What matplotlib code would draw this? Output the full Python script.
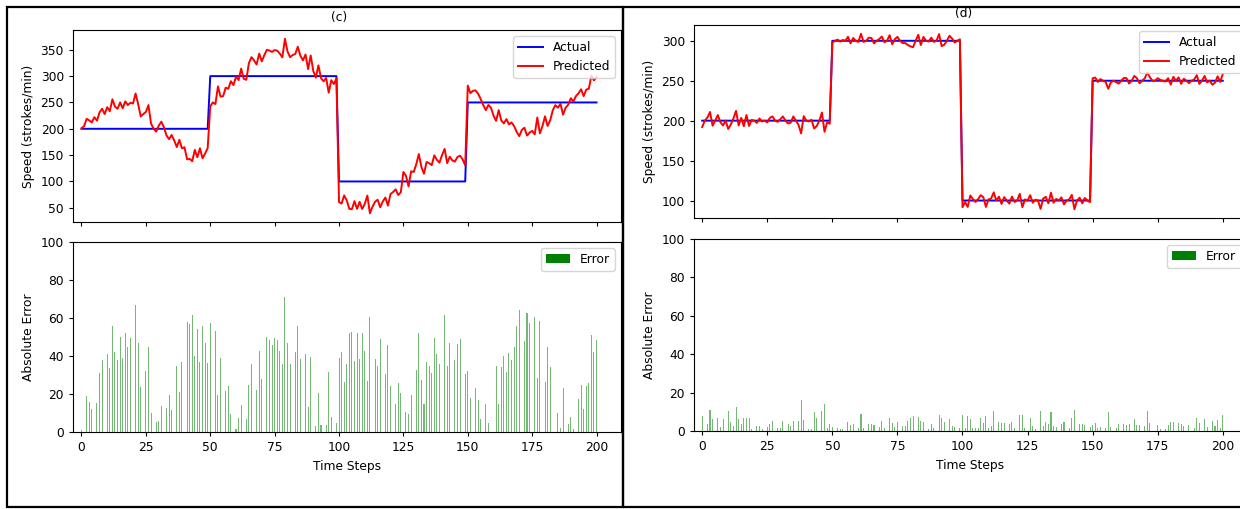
import numpy as np
import matplotlib
matplotlib.use("Agg")
import matplotlib.pyplot as plt
from matplotlib.patches import Rectangle

plt.rcParams['font.family'] = ['DejaVu Sans']
plt.rcParams['font.size'] = 8.8

W, H = 1240, 509

steps = np.arange(201)

# actual speed levels and how many steps each one lasts
levels_c = [200, 300, 100, 250]
levels_d = [200, 300, 100, 250]
seg_len = [50, 50, 50, 51]

# (c) predicted speed
pred_c = [201, 205, 219, 216, 212, 222, 215.4, 231, 238, 228,
          241, 233.5, 256, 242, 238, 250, 239, 252, 245, 249.5,
          248, 267, 247, 223.5, 228, 232, 245, 210, 200, 194.6,
          206, 213.5, 203, 187.4, 180.4, 188.2, 178, 165.3, 179, 163,
          165, 142, 143, 138.4, 160, 146, 163, 144, 153, 163.5,
          242.5, 250, 247, 280.5, 261, 262, 278.2, 275.8, 290.4, 283,
          298.6, 292.5, 314.2, 295, 293, 324.7, 336, 330, 322, 342.8,
          328, 340, 350, 348.4, 346, 349.5, 348.4, 342.8, 335.6, 371,
          346.7, 336, 340, 342, 355.8, 338.6, 330, 341, 313.3, 339.3,
          310, 297, 320.5, 296.5, 290, 296.5, 268.6, 292.3, 285, 295.4,
          61, 58, 73.5, 64, 48, 47.2, 62.6, 48, 61.4, 47.7,
          57.5, 73.2, 39.6, 52, 61.4, 65.3, 51, 62, 69.5, 54.2,
          76, 80, 85, 74.2, 79.5, 118, 110.7, 90.5, 119.3, 118,
          132.8, 152, 127.4, 114.7, 137, 134.7, 131, 149.5, 141.2, 135.6,
          150, 161.8, 134.7, 147, 140, 137.7, 146.5, 148.8, 142, 130.5,
          282, 267.7, 272, 273, 266.8, 256.7, 245, 235.3, 245.3, 240,
          225, 215, 235.4, 216, 210.2, 218.4, 208.4, 212, 205, 194,
          186, 198, 202, 187.2, 192.6, 196, 189.5, 221.5, 191.4, 205,
          223.7, 205.4, 216, 235, 245, 240, 247.7, 226.7, 240, 245.7,
          258, 251.8, 262, 267.4, 275, 262, 274.4, 276, 301, 292,
          298.2]

# (c) absolute error bars
err_c = [1, 0, 19, 16, 12, 0, 15.4, 31, 38, 0,
         41, 33.5, 56, 42, 38, 50, 39, 52, 45, 49.5,
         0, 67, 47, 23.5, 0, 32, 45, 10, 0, 5.4,
         6, 13.5, 0, 12.6, 19.6, 11.8, 0, 34.7, 21, 37,
         0, 58, 57, 61.6, 40, 54, 37, 56, 47, 36.5,
         57.5, 0, 53, 19.5, 39, 0, 21.8, 24.2, 9.6, 0,
         1.4, 7.5, 14.2, 0, 7, 24.7, 36, 0, 22, 42.8,
         28, 0, 50, 48.4, 46, 49.5, 48.4, 42.8, 35.6, 71,
         46.7, 36, 0, 42, 55.8, 38.6, 0, 41, 13.3, 39.3,
         0, 3, 20.5, 3.5, 0, 3.5, 31.4, 7.7, 0, 4.6,
         39, 42, 26.5, 36, 52, 52.8, 37.4, 52, 38.6, 52.3,
         42.5, 26.8, 60.4, 0, 38.6, 34.7, 49, 0, 30.5, 45.8,
         24, 0, 15, 25.8, 20.5, 0, 10.7, 9.5, 19.3, 0,
         32.8, 52, 27.4, 14.7, 37, 34.7, 31, 49.5, 41.2, 35.6,
         0, 61.8, 34.7, 47, 0, 37.7, 46.5, 48.8, 0, 30.5,
         32, 17.7, 0, 23, 16.8, 6.7, 0, 14.7, 4.7, 0,
         0, 35, 14.6, 34, 39.8, 31.6, 41.6, 38, 45, 56,
         64, 0, 48, 62.8, 57.4, 0, 60.5, 28.5, 58.6, 0,
         26.3, 44.6, 34, 0, 0, 10, 2.3, 23.3, 0, 4.3,
         8, 1.8, 0, 17.4, 25, 12, 24.4, 26, 51, 42,
         48.2]

# (d) predicted speed
pred_d = [192, 200, 203.9, 210.9, 193.7, 200, 207, 197.9, 194, 200,
          189.5, 195.4, 202.8, 212.3, 194, 203.5, 193, 207, 193.3, 201,
          200, 197.2, 202.8, 199, 200, 197.9, 203.5, 205.3, 200, 198.6,
          201.8, 205.3, 200, 196.5, 197.5, 205.3, 200, 194.7, 184, 205.6,
          200, 199, 201, 190.2, 193.3, 200, 210.2, 186, 198.2, 196.1,
          297.9, 300, 301.4, 299, 301, 300, 304.9, 296.8, 303.5, 300,
          298.6, 308.8, 298.6, 300, 303.9, 303.5, 296.8, 300, 302.1, 305.3,
          298.2, 300, 307, 295.8, 302.1, 304.9, 300, 297.2, 297.2, 294.7,
          293, 292, 300, 307.5, 294.7, 304.9, 300, 299, 303.9, 298.6,
          300, 308.4, 293.3, 295.1, 300, 306.3, 302.8, 297.9, 300, 301.8,
          91.6, 98.2, 92, 106.3, 101.8, 98.2, 101.8, 106.7, 104.2, 92,
          101.4, 102.5, 110.2, 100, 104.9, 95.8, 104.2, 100, 96.1, 104.9,
          98.2, 100, 108.4, 91.6, 101.4, 100, 106.7, 97.2, 101, 100,
          89.5, 102.5, 104.6, 96.5, 109.8, 97.2, 102.1, 100, 103.9, 95.1,
          100, 101.4, 107, 89.1, 100, 103.5, 96.5, 103.2, 100, 98,
          253, 254, 248.5, 252, 250, 248.5, 240, 248, 250, 248.2,
          246.5, 250, 253.5, 253.2, 246.5, 250, 256, 253.2, 246.8, 250,
          252.8, 260.5, 254.2, 250, 250, 253.2, 251, 250, 249, 253.2,
          245.1, 254.9, 250, 254.2, 246.1, 252.5, 250, 247, 250, 251.5,
          257, 246, 250, 256, 248, 250, 245, 247.5, 255.5, 248.5,
          258.5]

# (d) absolute error bars
err_d = [8, 0, 3.9, 10.9, 6.3, 0, 7, 2.1, 6, 0,
         10.5, 4.6, 2.8, 12.3, 6, 3.5, 7, 7, 6.7, 1,
         0, 2.8, 2.8, 1, 0, 2.1, 3.5, 5.3, 0, 1.4,
         1.8, 5.3, 0, 3.5, 2.5, 5.3, 0, 5.3, 16, 5.6,
         0, 1, 1, 9.8, 6.7, 0, 10.2, 14, 1.8, 3.9,
         2.1, 0, 1.4, 1, 1, 0, 4.9, 3.2, 3.5, 0,
         1.4, 8.8, 1.4, 0, 3.9, 3.5, 3.2, 0, 2.1, 5.3,
         1.8, 0, 7, 4.2, 2.1, 4.9, 0, 2.8, 2.8, 5.3,
         7, 8, 0, 7.5, 5.3, 4.9, 0, 1, 3.9, 1.4,
         0, 8.4, 6.7, 4.9, 0, 6.3, 2.8, 2.1, 0, 1.8,
         8.4, 1.8, 8, 6.3, 1.8, 1.8, 1.8, 6.7, 4.2, 8,
         1.4, 2.5, 10.2, 0, 4.9, 4.2, 4.2, 0, 3.9, 4.9,
         1.8, 0, 8.4, 8.4, 1.4, 0, 6.7, 2.8, 1, 0,
         10.5, 2.5, 4.6, 3.5, 9.8, 2.8, 2.1, 0, 3.9, 4.9,
         0, 1.4, 7, 10.9, 0, 3.5, 3.5, 3.2, 0, 2,
         3, 4, 1.5, 2, 0, 1.5, 10, 2, 0, 1.8,
         3.5, 0, 3.5, 3.2, 3.5, 0, 6, 3.2, 3.2, 0,
         2.8, 10.5, 4.2, 0, 0, 3.2, 1, 0, 1, 3.2,
         4.9, 4.9, 0, 4.2, 3.9, 2.5, 0, 3, 0, 1.5,
         7, 4, 0, 6, 2, 0, 5, 2.5, 5.5, 1.5,
         8.5]

actual_c = np.repeat(levels_c, seg_len)
actual_d = np.repeat(levels_d, seg_len)

speed_ticks_c = [50, 100, 150, 200, 250, 300, 350]
speed_ticks_d = [100, 150, 200, 250, 300]


def px_axes(fig, l, t, r, b):
    return fig.add_axes([l / W, 1 - b / H, (r - l) / W, (b - t) / H])


fig = plt.figure(figsize=(W / 100, H / 100), dpi=100)

panels = [
    (actual_c, pred_c, err_c, speed_ticks_c, (73, 30, 621, 222),
     (73, 242, 621, 432), (-3.3, 209.5), (339, 17), '(c)'),
    (actual_d, pred_d, err_d, speed_ticks_d, (694, 25, 1247, 218),
     (694, 239, 1247, 431), (-3.15, 209.3), (964, 13), '(d)'),
]

for actual, pred, err, yt, top, bot, xl, tpos, title in panels:
    ax1 = px_axes(fig, *top)
    ax1.plot(steps, actual, color='blue', lw=1.4, label='Actual')
    ax1.plot(steps, pred, color='red', lw=1.4, label='Predicted')
    ax1.set_xlim(*xl)
    ax1.set_yticks(yt)
    ax1.set_xticks(range(0, 201, 25))
    ax1.tick_params(labelbottom=False, length=3)
    ax1.set_ylabel('Speed (strokes/min)')
    ax1.legend(loc='upper right')

    ax2 = px_axes(fig, *bot)
    ax2.bar(steps, err, width=0.4, color='green', alpha=0.55, lw=0, label='Error')
    ax2.set_xlim(*xl)
    ax2.set_ylim(0, 100)
    ax2.set_xticks(range(0, 201, 25))
    ax2.tick_params(length=3)
    ax2.set_xlabel('Time Steps')
    ax2.set_ylabel('Absolute Error')
    leg = ax2.legend(loc='upper right')
    for h in leg.legend_handles:
        h.set_alpha(1)

    fig.text(tpos[0] / W, 1 - tpos[1] / H, title, ha='center', va='center')

# black frames round the two panels
for x0, x1 in [(7, 623), (623, 1250)]:
    fig.add_artist(Rectangle((x0 / W, 1 - 507 / H), (x1 - x0) / W, 500 / H,
                             transform=fig.transFigure, fill=False,
                             edgecolor='black', lw=1.6, zorder=10))

fig.savefig('out.png', dpi=100)
